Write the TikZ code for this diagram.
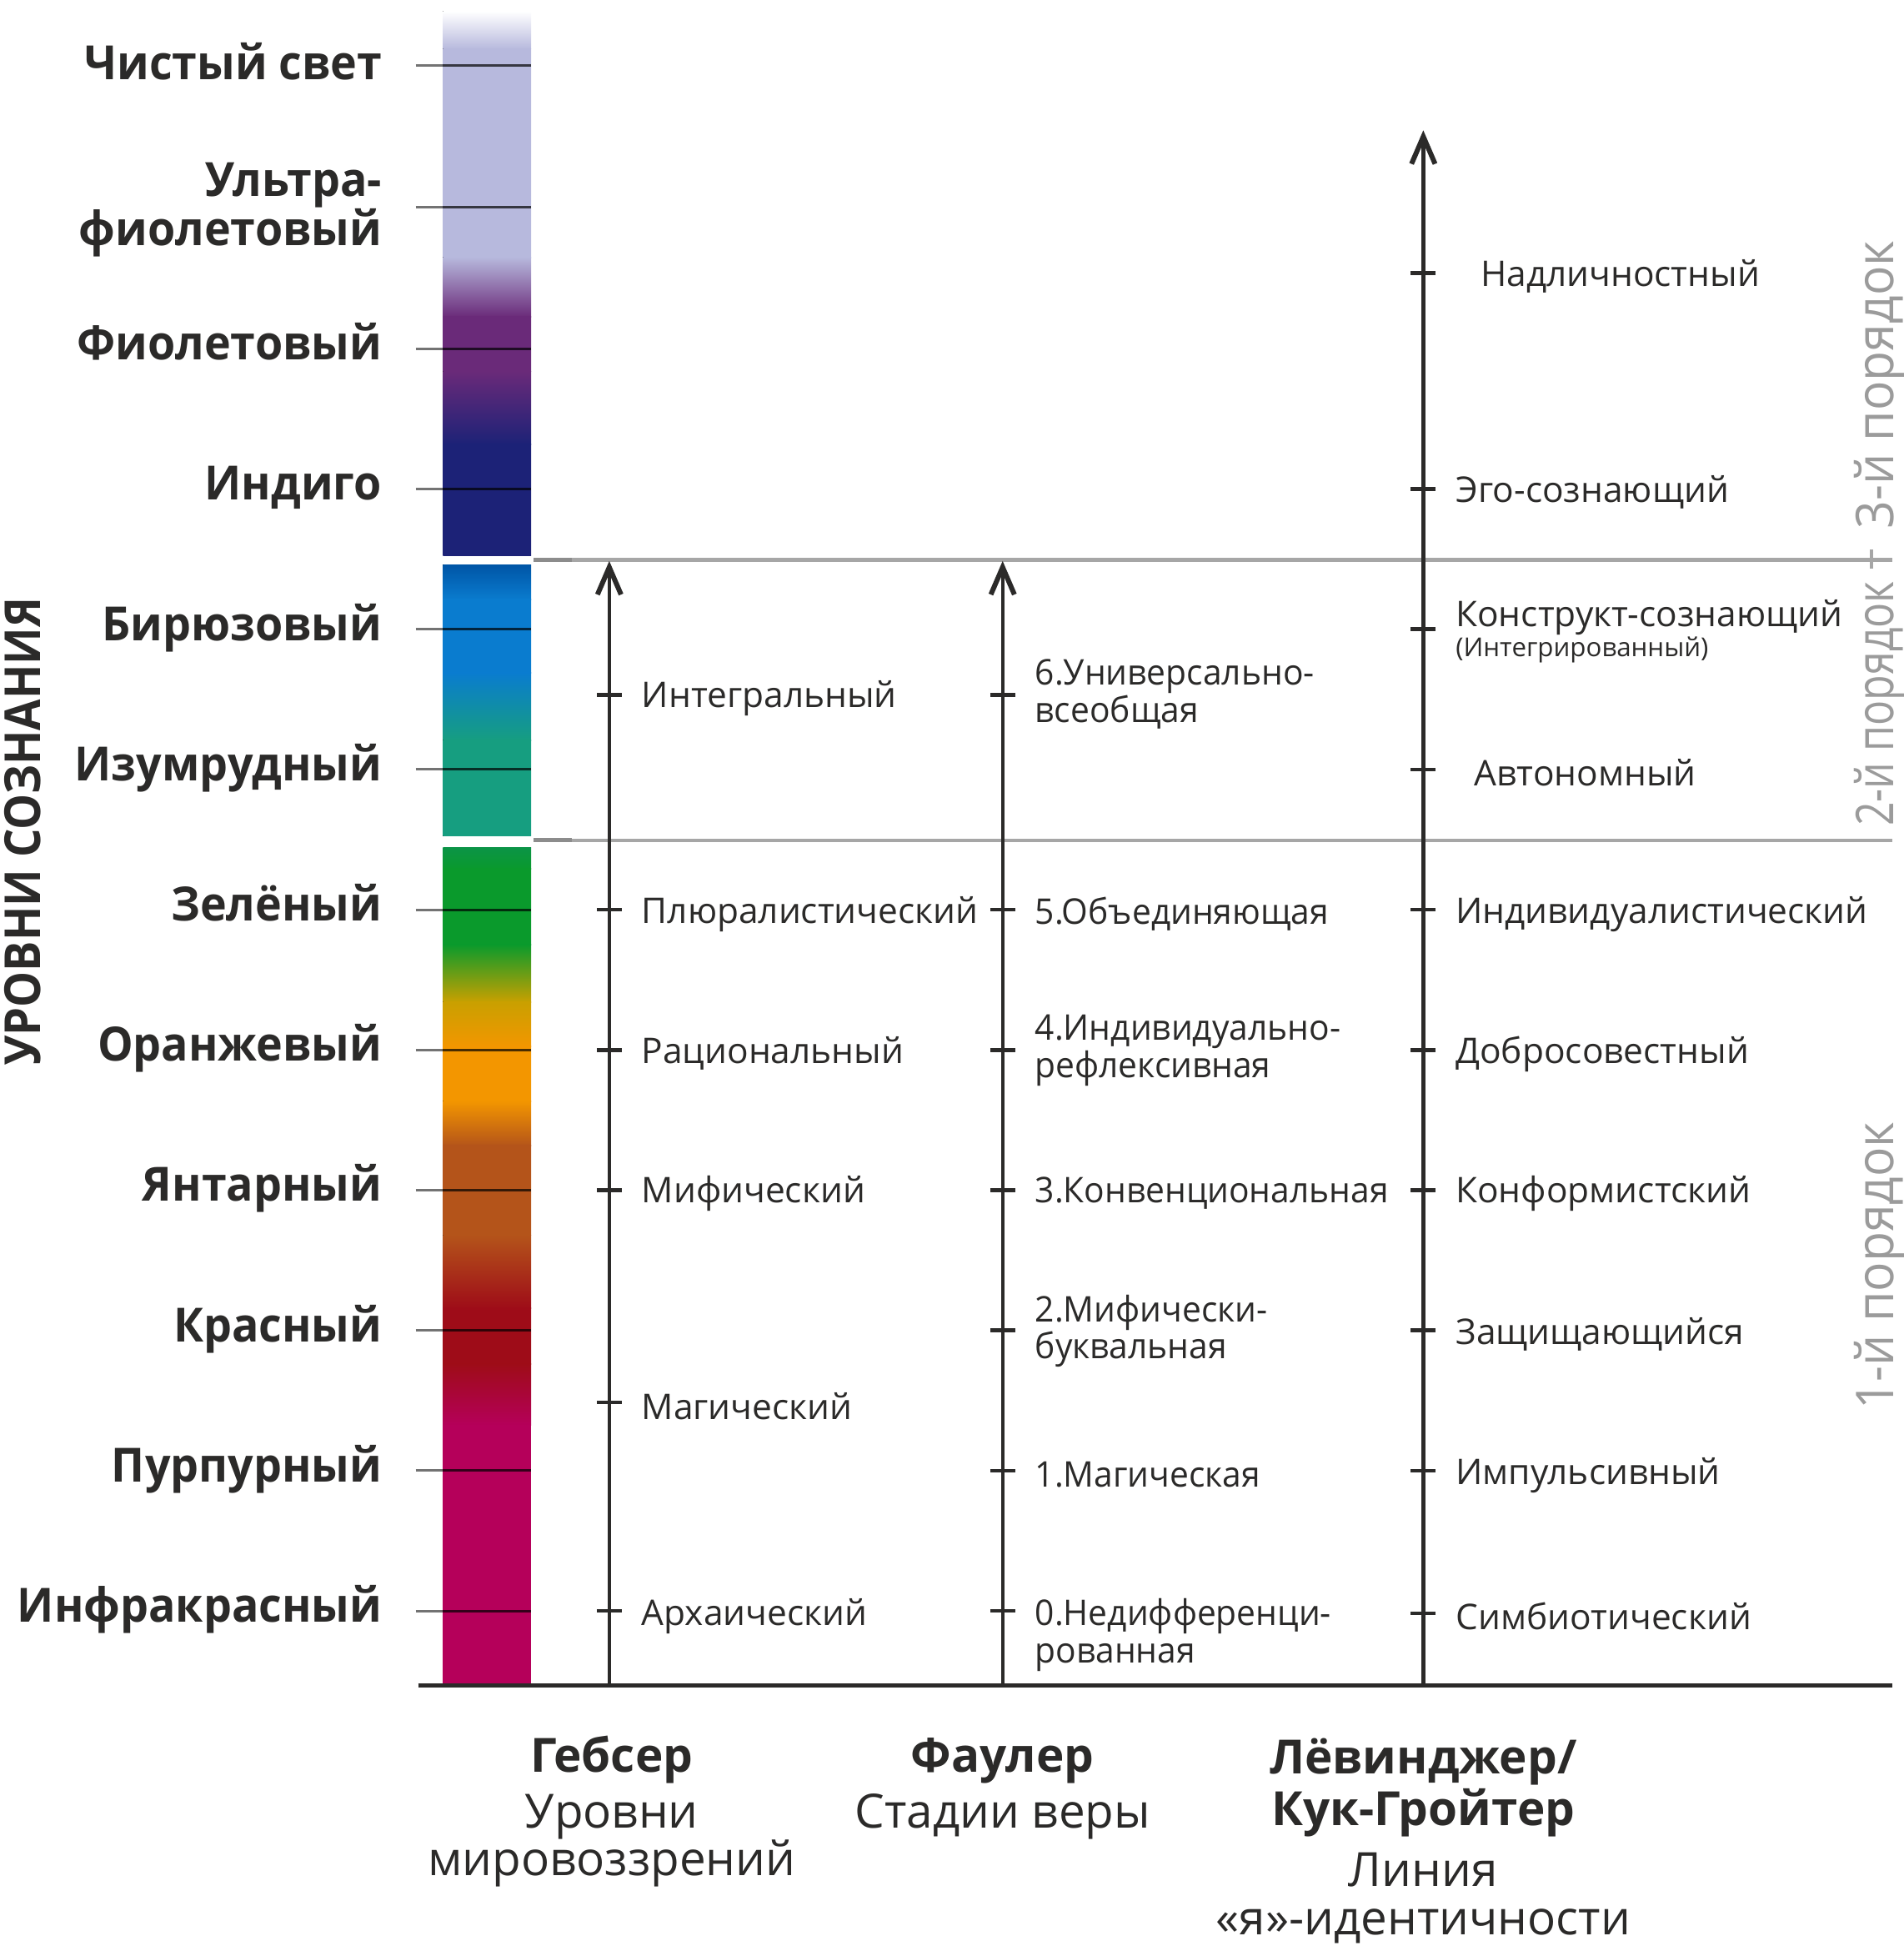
\documentclass[tikz,border=0pt]{standalone}
\usepackage{fontspec}
\setmainfont{Open Sans}
\newfontfamily\fowfont[FakeStretch=0.96]{Open Sans}
\newfontfamily\lvlfont[FakeStretch=0.95]{Open Sans}
\newfontfamily\titlefont[FakeStretch=0.91]{Open Sans}
\newfontfamily\condfont[FakeStretch=0.94]{Open Sans}
\newfontfamily\condfontb[FakeStretch=0.80]{Open Sans}
\usetikzlibrary{arrows.meta}
\definecolor{ink}{HTML}{2B2A29}
\definecolor{grayline}{HTML}{A6A6A6}
\definecolor{graytxt}{HTML}{9B9B9B}
% bar colours
\definecolor{cWhite}{HTML}{FFFFFF}
\definecolor{cLav}{HTML}{B7B9DD}
\definecolor{cPurp}{HTML}{6A2A79}
\definecolor{cNavy}{HTML}{1C2277}
\definecolor{cDBlue}{HTML}{0055A6}
\definecolor{cBlue}{HTML}{0A7CCF}
\definecolor{cTeal}{HTML}{169E80}
\definecolor{cGreenT}{HTML}{0B9446}
\definecolor{cGreen}{HTML}{0A9A2C}
\definecolor{cYel}{HTML}{C9A000}
\definecolor{cOra}{HTML}{F39600}
\definecolor{cBrown}{HTML}{B4541A}
\definecolor{cRed}{HTML}{9E0C18}
\definecolor{cMag}{HTML}{B5005A}
\newcommand{\bandseg}[4]{\fill[top color=#3,bottom color=#4] (357,#1) rectangle (428,#2+0.6);}
\begin{document}
\begin{tikzpicture}[x=1pt,y=-1pt,
  lvl/.style={font=\fontsize{38}{40}\selectfont\lvlfont\bfseries, text=ink, anchor=base east, inner sep=0pt},
  lab/.style={font=\fontsize{28.5}{30}\selectfont, text=ink, anchor=base west, inner sep=0pt},
  fow/.style={font=\fontsize{28.5}{30}\selectfont\fowfont, text=ink, anchor=base west, inner sep=0pt},
  small/.style={font=\fontsize{21}{23}\selectfont, text=ink, anchor=base west, inner sep=0pt},
  head/.style={font=\fontsize{38}{40}\selectfont\bfseries, text=ink, anchor=base, inner sep=0pt},
  sub/.style={font=\fontsize{38}{40}\selectfont, text=ink, anchor=base, inner sep=0pt},
  order/.style={font=\fontsize{42}{44}\selectfont\condfont, text=graytxt, rotate=90, inner sep=0pt},
  orderb/.style={font=\fontsize{42}{44}\selectfont\condfontb, text=graytxt, rotate=90, inner sep=0pt},
  axisline/.style={draw=ink, line width=3pt},
  arrowline/.style={draw=ink, line width=3pt, -{Straight Barb[length=22pt,width=19pt,line width=4pt]}},
  tickmark/.style={draw=ink, line width=3pt},
  sepline/.style={draw=grayline, line width=3pt},
  lvltick/.style={draw=black!55, line width=2pt},
  lvltickin/.style={draw=black, opacity=0.7, line width=2pt}
]
\useasboundingbox (0,0) rectangle (1534,1568);

% ---------- colour bar ----------
\bandseg{9}{39}{cWhite}{cLav}
\bandseg{39}{207}{cLav}{cLav}
\bandseg{207}{255}{cLav}{cPurp}
\bandseg{255}{299}{cPurp}{cPurp}
\bandseg{299}{358}{cPurp}{cNavy}
\bandseg{358}{447}{cNavy}{cNavy}
\bandseg{455}{483}{cDBlue}{cBlue}
\bandseg{483}{542}{cBlue}{cBlue}
\bandseg{542}{596}{cBlue}{cTeal}
\bandseg{596}{673}{cTeal}{cTeal}
\bandseg{683}{700}{cGreenT}{cGreen}
\bandseg{700}{761}{cGreen}{cGreen}
\bandseg{761}{807}{cGreen}{cYel}
\bandseg{807}{843}{cYel}{cOra}
\bandseg{843}{887}{cOra}{cOra}
\bandseg{887}{923}{cOra}{cBrown}
\bandseg{923}{995}{cBrown}{cBrown}
\bandseg{995}{1054}{cBrown}{cRed}
\bandseg{1054}{1099}{cRed}{cRed}
\bandseg{1099}{1148}{cRed}{cMag}
\fill[cMag] (357,1148) rectangle (428,1358);

% ---------- level ticks on bar ----------
\foreach \yy in {53,167,281,394,507,620,733,846,959,1072,1185,1298}{
  \draw[lvltick] (335,\yy) -- (357,\yy);
  \draw[lvltickin] (357,\yy) -- (428,\yy);
}

% ---------- level labels ----------
\node[lvl] (lv1) at (308,64) {Чистый свет};
\node[lvl] (lv2a) at (308,158) {Ультра-};
\node[lvl] (lv2b) at (308,198) {фиолетовый};
\node[lvl] (lv3) at (308,290) {Фиолетовый};
\node[lvl] (lv4) at (308,403) {Индиго};
\node[lvl] (lv5) at (308,516) {Бирюзовый};
\node[lvl] (lv6) at (308,629) {Изумрудный};
\node[lvl] (lv7) at (308,742) {Зелёный};
\node[lvl] (lv8) at (308,855) {Оранжевый};
\node[lvl] (lv9) at (308,968) {Янтарный};
\node[lvl] (lv10) at (308,1081) {Красный};
\node[lvl] (lv11) at (308,1194) {Пурпурный};
\node[lvl] (lv12) at (308,1307) {Инфракрасный};

\node[font=\fontsize{40}{42}\selectfont\titlefont\bfseries, text=ink, rotate=90, inner sep=0pt] (title) at (18,670) {УРОВНИ СОЗНАНИЯ};

% ---------- separators ----------
\coordinate (s1a) at (430,451); \coordinate (s1b) at (1525,451);
\coordinate (s2a) at (430,677); \coordinate (s2b) at (1525,677);
\draw[sepline] (s1a) -- (s1b);
\draw[sepline] (s2a) -- (s2b);
\draw[draw=black!45, line width=3.5pt] (s1a) -- ++(31,0);
\draw[draw=black!45, line width=3.5pt] (s2a) -- ++(31,0);
\draw[draw=grayline, line width=2.7pt] (1508,443) -- (1508,458);

% ---------- axes ----------
\coordinate (ax0) at (337,1358);
\coordinate (ax1) at (1525,1358);
\draw[axisline] (ax0) -- (ax1);

\coordinate (gb) at (491,1358); \coordinate (gt) at (491,452);
\coordinate (fb) at (808,1358); \coordinate (ft) at (808,452);
\coordinate (lb) at (1147,1358); \coordinate (lt) at (1147,105);
\draw[arrowline] (gb) -- (gt);
\draw[arrowline] (fb) -- (ft);
\draw[arrowline] (lb) -- (lt);

\foreach \yy in {560,733,846,959,1130,1298}{\draw[tickmark] (481,\yy) -- (501,\yy);}
\foreach \yy in {560,733,846,959,1072,1185,1298}{\draw[tickmark] (798,\yy) -- (818,\yy);}
\foreach \yy in {220,394,507,620,733,846,959,1072,1185,1300}{\draw[tickmark] (1137,\yy) -- (1157,\yy);}

% ---------- Gebser ----------
\node[lab] (g1) at (517,570) {Интегральный};
\node[lab] (g2) at (517,744) {Плюралистический};
\node[lab] (g3) at (517,857) {Рациональный};
\node[lab] (g4) at (517,969) {Мифический};
\node[lab] (g5) at (517,1144) {Магический};
\node[lab] (g6) at (517,1310) {Архаический};

% ---------- Fowler ----------
\node[fow] (f6a) at (834,552) {6.Универсально-};
\node[fow] (f6b) at (834,582) {всеобщая};
\node[fow] (f5) at (834,745) {5.Объединяющая};
\node[fow] (f4a) at (834,838) {4.Индивидуально-};
\node[fow] (f4b) at (834,868) {рефлексивная};
\node[fow] (f3) at (834,969) {3.Конвенциональная};
\node[fow] (f2a) at (834,1065) {2.Мифически-};
\node[fow] (f2b) at (834,1095) {буквальная};
\node[fow] (f1) at (834,1198) {1.Магическая};
\node[fow] (f0a) at (834,1310) {0.Недифференци-};
\node[fow] (f0b) at (834,1340) {рованная};

% ---------- Loevinger ----------
\node[lab] (e10) at (1193,231) {Надличностный};
\node[lab] (e9) at (1173,405) {Эго-сознающий};
\node[lab] (e8) at (1173,505) {Конструкт-сознающий};
\node[small] (e8b) at (1173,529) {(Интегрированный)};
\node[lab] (e7) at (1188,633) {Автономный};
\node[lab] (e6) at (1173,744) {Индивидуалистический};
\node[lab] (e5) at (1173,857) {Добросовестный};
\node[lab] (e4) at (1173,969) {Конформистский};
\node[lab] (e3) at (1173,1083) {Защищающийся};
\node[lab] (e2) at (1173,1196) {Импульсивный};
\node[lab] (e1) at (1173,1313) {Симбиотический};

% ---------- orders ----------
\node[order] (o3) at (1515,310) {3-й порядок};
\node[orderb] (o2) at (1515,567) {2-й порядок};
\node[order] (o1) at (1515,1020) {1-й порядок};

% ---------- bottom headings ----------
\node[head] (hg) at (493,1428) {Гебсер};
\node[sub] (hg2) at (493,1473) {Уровни};
\node[sub] (hg3) at (493,1511) {мировоззрений};
\node[head] (hf) at (808,1428) {Фаулер};
\node[sub] (hf2) at (808,1473) {Стадии веры};
\node[head] (hl) at (1147,1429) {Лёвинджер/};
\node[head] (hl2) at (1147,1471) {Кук-Гройтер};
\node[sub] (hl3) at (1147,1520) {Линия};
\node[sub] (hl4) at (1147,1559) {«я»-идентичности};
\end{tikzpicture}
\end{document}
